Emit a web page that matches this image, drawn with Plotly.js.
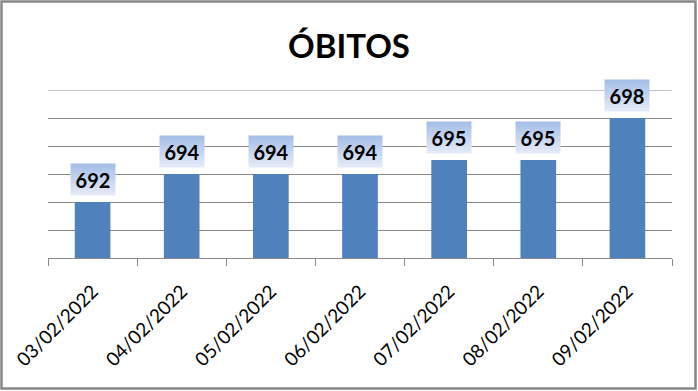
<!DOCTYPE html>
<html>
<head>
<meta charset="utf-8">
<script src="https://cdn.plot.ly/plotly-3.0.1.min.js"></script>
<style>
html,body{margin:0;padding:0;background:#fff;}
#chart{width:698px;height:391px;}
</style>
</head>
<body>
<div id="chart"></div>
<script>
const categories = ["03/02/2022","04/02/2022","05/02/2022","06/02/2022","07/02/2022","08/02/2022","09/02/2022"];
const obitos = [692, 694, 694, 694, 695, 695, 698];
const chartTitle = "ÓBITOS";

const W = 698, H = 391, L = 48, R = 26, T = 90, B = 133;
const pw = W - L - R, ph = H - T - B;
const px = v => (v - L) / pw;
const py = v => (H - B - v) / ph;

const trace = {
  type: 'bar',
  x: categories,
  y: obitos,
  marker: {color: '#4F81BD'},
  hoverinfo: 'none'
};

const annotations = categories.map((c, i) => ({
  x: c, y: obitos[i], xref: 'x', yref: 'y',
  text: String(obitos[i]),
  showarrow: false,
  yanchor: 'bottom', yshift: 6,
  width: 44, height: 31,
  borderpad: 0,
  bgcolor: '#bccdec',
  font: {family: 'Lato, sans-serif', size: 20, color: '#000', weight: 'bold'}
}));

const layout = {
  width: W, height: H,
  margin: {l: L, r: R, t: T, b: B},
  paper_bgcolor: '#fff', plot_bgcolor: '#fff',
  showlegend: false,
  bargap: 0.6,
  title: {
    text: '<b>' + chartTitle + '</b>',
    x: 0.5, xref: 'container', xanchor: 'center',
    y: 1 - 46 / H, yref: 'container', yanchor: 'middle',
    font: {family: 'Lato, sans-serif', size: 33, color: '#000'}
  },
  xaxis: {
    type: 'category',
    tickson: 'boundaries',
    ticks: 'outside', ticklen: 7, tickcolor: '#898989', tickwidth: 1,
    showline: true, linecolor: '#898989', linewidth: 1,
    showgrid: false,
    tickangle: -45,
    ticklabelstandoff: 14,
    tickfont: {family: 'Lato, sans-serif', size: 19, color: '#000'},
    fixedrange: true
  },
  yaxis: {
    range: [688, 700],
    dtick: 2, tick0: 688,
    showgrid: true, gridcolor: '#898989', gridwidth: 1,
    showticklabels: false, ticks: '',
    zeroline: false, showline: false,
    fixedrange: true
  },
  annotations: annotations,
  shapes: [{
    type: 'line', xref: 'paper', yref: 'y',
    x0: 0, x1: 1, y0: 700, y1: 700,
    line: {color: '#898989', width: 1},
    layer: 'below'
  }, {
    type: 'rect', xref: 'paper', yref: 'paper',
    x0: px(1.5), x1: px(695.5), y0: py(388.5), y1: py(1.5),
    line: {color: '#878787', width: 2.5}, fillcolor: 'rgba(0,0,0,0)',
    layer: 'above'
  }]
};

Plotly.newPlot('chart', [trace], layout, {displayModeBar: false, staticPlot: true}).then(gd => {
  const svg = gd.querySelector('svg.main-svg');
  const ns = 'http://www.w3.org/2000/svg';
  let defs = svg.querySelector('defs');
  if (!defs) { defs = document.createElementNS(ns, 'defs'); svg.insertBefore(defs, svg.firstChild); }
  const grad = document.createElementNS(ns, 'linearGradient');
  grad.setAttribute('id', 'lblgrad');
  grad.setAttribute('x1', '0'); grad.setAttribute('y1', '0');
  grad.setAttribute('x2', '0'); grad.setAttribute('y2', '1');
  [['0%', '#a3bde7'], ['100%', '#e6ecf8']].forEach(([o, c]) => {
    const s = document.createElementNS(ns, 'stop');
    s.setAttribute('offset', o); s.setAttribute('stop-color', c);
    grad.appendChild(s);
  });
  defs.appendChild(grad);
  gd.querySelectorAll('.annotation-text-g rect.bg').forEach(r => {
    r.style.fill = 'url(#lblgrad)';
  });
});
</script>
</body>
</html>
